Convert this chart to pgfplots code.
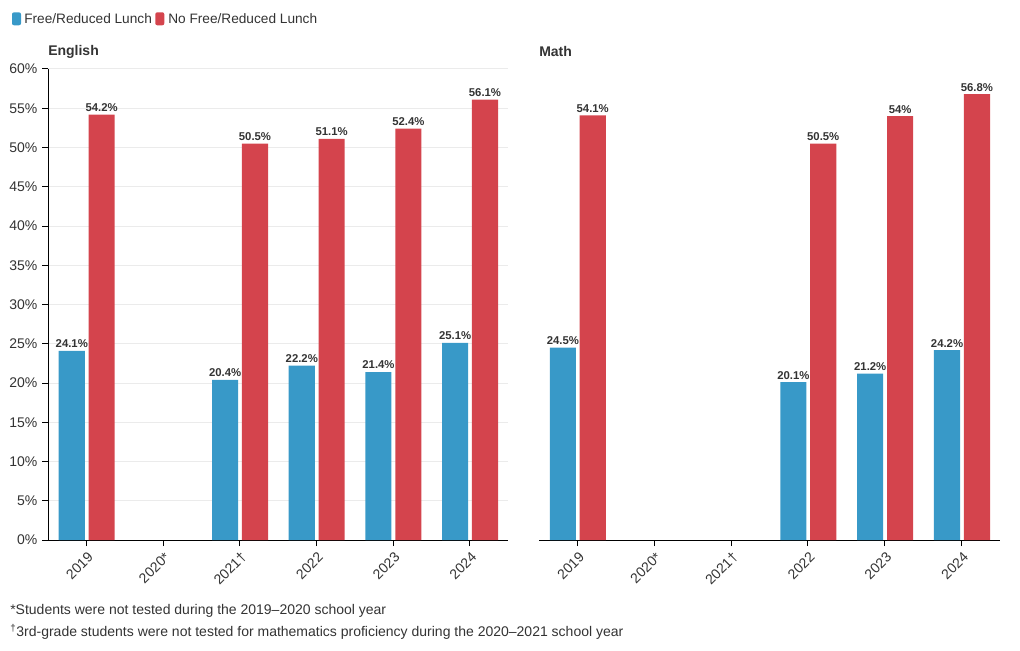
\documentclass[border=0pt]{standalone}
\usepackage{fontspec}
\setmainfont{Liberation Sans}
\usepackage{pgfplots}
\pgfplotsset{compat=1.18}
\definecolor{fblue}{RGB}{56,153,200}
\definecolor{fred}{RGB}{212,68,77}
\definecolor{txt}{RGB}{51,51,51}
\definecolor{gridc}{RGB}{235,235,235}
\newcommand{\tfont}{\fontsize{10.5}{12.6}\selectfont}
\newcommand{\lfont}{\fontsize{10.25}{12.3}\selectfont}
\newcommand{\vfont}{\bfseries\fontsize{8.5}{10}\selectfont}
\pgfplotsset{panel/.style={
  scale only axis, width=345pt, height=353.25pt,
  xmin=-0.5, xmax=5.5, ymin=0, ymax=60,
  xtick={0,...,5}, xticklabels={2019,2020*,2021†,2022,2023,2024},
  ytick={0,5,...,60},
  ymajorgrids, major grid style={gridc, line width=0.75pt},
  axis x line*=bottom,
  tick align=outside, major tick length=4.5pt,
  tick style={black, line width=0.75pt},
  axis line style={black, line width=0.75pt},
  x tick label style={rotate=45, anchor=east, font=\tfont, text=txt, yshift=-7pt, xshift=1pt},
  y tick label style={font=\tfont, text=txt},
  /pgf/number format/assume math mode=true,
  yticklabel={\pgfmathprintnumber{\tick}\%},
  clip=false,
}}
\pgfplotsset{bars/.style={ybar, bar width=0.34, draw=none,
  nodes near coords={\pgfmathprintnumber[fixed,precision=1]{\pgfplotspointmeta}\%},
  every node near coord/.append style={anchor=south, font=\vfont, text=txt, inner sep=2pt},
}}
\begin{document}
\begin{tikzpicture}[x=0.75pt,y=0.75pt]
\useasboundingbox (0,0) rectangle (1020,650);
% legend
\fill[fblue, rounded corners=1.5pt] (12,624.7) rectangle (21,637.7);
\node[anchor=west, inner sep=0pt, text=txt, font=\lfont] at (24,631.5) {Free/Reduced Lunch};
\fill[fred, rounded corners=1.5pt] (155.3,624.7) rectangle (164.3,637.7);
\node[anchor=west, inner sep=0pt, text=txt, font=\lfont] at (168,631.5) {No Free/Reduced Lunch};
% titles
\node[anchor=west, inner sep=0pt, text=txt, font=\bfseries\tfont] at (48,598) {English};
\node[anchor=west, inner sep=0pt, text=txt, font=\bfseries\tfont] at (539,598) {Math};

\begin{axis}[panel, at={(36pt,82.5pt)}, anchor=south west, axis y line*=left]
\addplot[bars, fill=fblue, bar shift=-0.19, every node near coord/.append style={xshift=-10.9pt}] coordinates {(0,24.1) (2,20.4) (3,22.2) (4,21.4) (5,25.1)};
\addplot[bars, fill=fred, bar shift=0.2, every node near coord/.append style={xshift=11.5pt}] coordinates {(0,54.2) (2,50.5) (3,51.1) (4,52.4) (5,56.1)};
\end{axis}

\begin{axis}[panel, at={(404.25pt,82.5pt)}, anchor=south west, width=345.75pt, axis y line=none, yticklabels={}]
\addplot[bars, fill=fblue, bar shift=-0.19, every node near coord/.append style={xshift=-10.9pt}] coordinates {(0,24.5) (3,20.1) (4,21.2) (5,24.2)};
\addplot[bars, fill=fred, bar shift=0.2, every node near coord/.append style={xshift=11.5pt}] coordinates {(0,54.1) (3,50.5) (4,54) (5,56.8)};
\end{axis}

% footnotes
\node[anchor=west, inner sep=0pt, text=txt, font=\tfont] at (10,39) {*Students were not tested during the 2019–2020 school year};
\node[anchor=west, inner sep=0pt, text=txt, font=\tfont] at (10,18) {\textsuperscript{†}3rd-grade students were not tested for mathematics proficiency during the 2020–2021 school year};
\end{tikzpicture}
\end{document}
